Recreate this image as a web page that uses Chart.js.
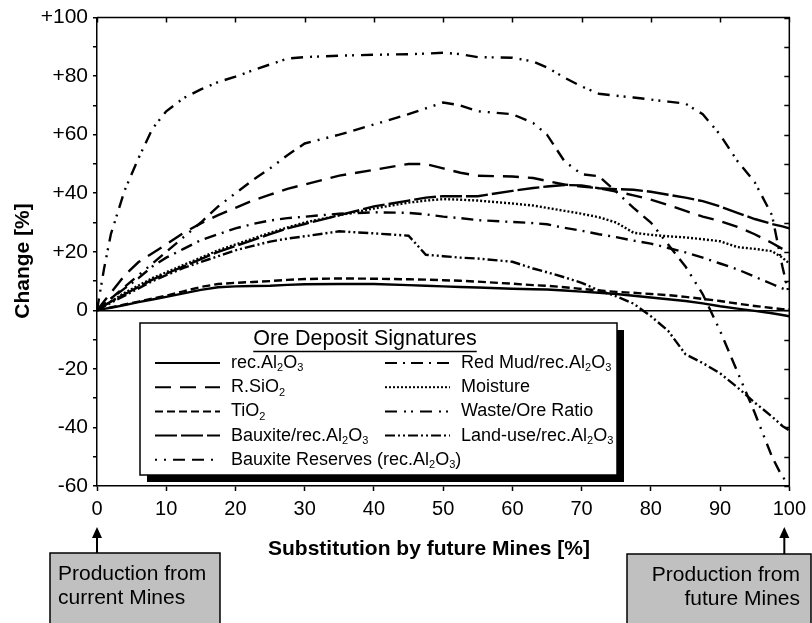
<!DOCTYPE html>
<html>
<head>
<meta charset="utf-8">
<script src="https://cdn.jsdelivr.net/npm/chart.js@4.4.1/dist/chart.umd.min.js"></script>
<style>
    html, body { margin: 0; padding: 0; background: #fff; }
    #wrap { width: 812px; height: 623px; position: relative; }
</style>
</head>
<body>
<div id="wrap"><canvas id="chart"></canvas></div>
<script>
// Substitution by future mines [%]
const substitution = [0, 1, 2, 4, 6, 8, 10, 12.5, 15, 17.5, 20, 22.5, 25, 27.5, 30, 35, 40, 45, 47.5, 50,
    52.5, 55, 60, 63, 65, 67.5, 70, 72.5, 75, 77.5, 80, 82.5, 85, 87.5, 90, 92.5, 95, 97.5, 99, 100];

// Change [%] per ore deposit signature
const recAl2O3 = [0, 0.5, 0.9, 1.8, 2.8, 3.7, 4.6, 5.8, 7, 7.9, 8.2, 8.3, 8.4, 8.7, 8.9, 9, 9, 8.6, 8.4, 8.2,
    8, 7.8, 7.4, 7.2, 7.1, 6.8, 6.4, 6, 5.6, 5, 4.4, 3.8, 3.2, 2.4, 1.4, 0.6, -0.2, -1, -1.6, -2];
const rSiO2 = [0, 3, 6, 12, 16.5, 19.5, 22.5, 26.5, 29.7, 32.5, 35, 37.5, 39.5, 41.5, 43, 46, 48, 50, 50, 48.5,
    47, 46, 45.7, 45.2, 44.2, 43, 42.3, 41.7, 40.6, 39.3, 37.8, 36, 34, 32, 30.5, 28.5, 26, 23, 21, 19];
const tiO2 = [0, 0.5, 1, 2, 3, 4, 5, 6.5, 8, 9, 9.4, 9.7, 10, 10.4, 10.7, 10.9, 10.8, 10.6, 10.5, 10.3,
    10.1, 9.8, 9.1, 8.6, 8.4, 7.9, 7.3, 6.8, 6.3, 6, 5.6, 5.2, 4.6, 3.9, 3.2, 2.3, 1.5, 0.8, 0.4, 0.3];
const bauxitePerAl = [0, 1.5, 3, 5.5, 8, 10.5, 12.5, 15, 17.5, 20, 22, 24, 26, 28, 29.5, 32.5, 35.5, 37.5, 38.5, 39,
    39, 39, 40.8, 41.8, 42.3, 42.8, 42.7, 41.7, 41.4, 41.2, 40.5, 39.5, 38.5, 37.3, 35.5, 33.3, 31.2, 29.5, 28.7, 28];
const bauxiteReserves = [0, 2, 4, 8, 12, 16, 20, 25, 30, 35.5, 40, 44.5, 48.5, 53, 57, 60, 63.5, 67, 69, 71,
    70, 68, 67, 64, 60, 51, 46.5, 45.8, 40.5, 35, 30, 22.5, 15, 5.5, -7, -21, -35, -50, -57, -59];
const redMudPerAl = [0, 2, 4, 7.5, 11, 15, 18, 21, 24, 26, 28, 29.5, 30.7, 31.5, 32, 33, 33.5, 33.3, 32.8, 32,
    31.5, 30.8, 30.2, 29.8, 29.4, 28.2, 27.2, 26, 25, 23.8, 22.8, 21.3, 19.8, 18, 16, 14, 11.5, 9, 7.5, 6.5];
const moisture = [0, 1.5, 3, 6, 8.5, 11, 13, 15.5, 18, 20.5, 22.5, 24.5, 26.5, 28.3, 30, 32.5, 34.8, 36.8, 37.5, 38,
    37.8, 37.5, 36.5, 35.8, 35, 34, 33, 31.8, 30, 26.5, 25.8, 25.3, 24.9, 24.3, 23.6, 21.6, 21, 20.2, 18, 16];
const wasteOreRatio = [0, 14, 26, 41, 52, 62, 68, 72.5, 75.5, 78, 79.8, 82, 84, 86, 86.5, 87, 87.3, 87.5, 87.7, 88,
    87.5, 86.5, 86.3, 85, 83, 79.5, 76.5, 74, 73.3, 72.7, 72, 71.3, 70.6, 67, 60, 51, 43.8, 32.5, 15, 5];
const landUsePerAl = [0, 1.3, 2.6, 5, 7.5, 10, 12, 14.5, 16.5, 18.5, 20.5, 22, 23.5, 24.5, 25.3, 27, 26.3, 25.5, 19, 18.5,
    18, 17.7, 16.6, 14.3, 13, 11.3, 9.4, 6.8, 4.8, 2.3, -2, -7, -15, -18, -21.5, -26.3, -31.5, -36.3, -39.5, -41];

const yTickLabels = ['-60', '-40', '-20', '0', '+20', '+40', '+60', '+80', '+100'];
const xTitle = 'Substitution by future Mines [%]';
const yTitle = 'Change [%]';
const legendTitle = 'Ore Deposit Signatures';
const leftNote = ['Production from', 'current Mines'];
const rightNote = ['Production from', 'future Mines'];

const FONT = '"Liberation Sans", Arial, Helvetica, sans-serif';

function series(label, values, dash) {
    return {
        label: label,
        data: substitution.map((x, i) => ({ x: x, y: values[i] })),
        borderColor: '#000',
        borderWidth: 2.4,
        borderDash: dash,
        pointRadius: 0,
        fill: false,
        tension: 0
    };
}

const datasets = [
    series('rec.Al₂O₃', recAl2O3, []),
    series('R.SiO₂', rSiO2, [16, 9]),
    series('TiO₂', tiO2, [8, 4]),
    series('Bauxite/rec.Al₂O₃', bauxitePerAl, [22, 4]),
    series('Bauxite Reserves (rec.Al₂O₃)', bauxiteReserves, [2, 7, 2, 7, 12, 7, 12, 7]),
    series('Red Mud/rec.Al₂O₃', redMudPerAl, [12, 6, 2, 6]),
    series('Moisture', moisture, [2, 2]),
    series('Waste/Ore Ratio', wasteOreRatio, [12, 7, 2, 5, 2, 7]),
    series('Land-use/rec.Al₂O₃', landUsePerAl, [10, 3, 2, 3, 2, 3])
];

const SUBS = { '₂': '2', '₃': '3' };

// text with subscript digits
function drawRich(ctx, text, x, y, size) {
    let cx = x;
    text.split(/([₂₃])/).filter(p => p).forEach(p => {
        if (SUBS[p]) {
            ctx.font = Math.round(size * 0.62) + 'px ' + FONT;
            ctx.fillText(SUBS[p], cx, y + size * 0.3);
            cx += ctx.measureText(SUBS[p]).width;
        } else {
            ctx.font = size + 'px ' + FONT;
            ctx.fillText(p, cx, y);
            cx += ctx.measureText(p).width;
        }
    });
}

function drawArrow(ctx, ax, fromY, tipY) {
    ctx.beginPath();
    ctx.lineWidth = 2;
    ctx.moveTo(ax, fromY);
    ctx.lineTo(ax, tipY + 8);
    ctx.stroke();
    ctx.beginPath();
    ctx.moveTo(ax, tipY);
    ctx.lineTo(ax - 5, tipY + 11);
    ctx.lineTo(ax + 5, tipY + 11);
    ctx.closePath();
    ctx.fill();
}

function drawNote(ctx, box, lines, align, tx) {
    ctx.fillStyle = '#c0c0c0';
    ctx.fillRect(box.x, box.y, box.w, box.h);
    ctx.strokeStyle = '#000';
    ctx.lineWidth = 1.5;
    ctx.strokeRect(box.x, box.y, box.w, box.h);
    ctx.fillStyle = '#000';
    ctx.font = '21px ' + FONT;
    ctx.textAlign = align;
    ctx.textBaseline = 'middle';
    lines.forEach((line, i) => ctx.fillText(line, tx, box.y + 21 + i * 24));
}

const decor = {
    id: 'decor',
    afterDraw(chart) {
        const { ctx, chartArea: a, scales: { x, y } } = chart;
        ctx.save();

        // top and right frame, ticks pointing inward
        ctx.strokeStyle = '#000';
        ctx.lineWidth = 1.5;
        ctx.beginPath();
        ctx.moveTo(a.left, a.top);
        ctx.lineTo(a.right, a.top);
        ctx.lineTo(a.right, a.bottom);
        x.ticks.forEach(t => {
            const px = Math.round(x.getPixelForValue(t.value)) + 0.5;
            ctx.moveTo(px, a.top);
            ctx.lineTo(px, a.top + 5);
        });
        y.ticks.forEach(t => {
            const py = Math.round(y.getPixelForValue(t.value)) + 0.5;
            ctx.moveTo(a.right, py);
            ctx.lineTo(a.right - 5, py);
        });
        ctx.stroke();

        // axis titles
        ctx.fillStyle = '#000';
        ctx.font = 'bold 21px ' + FONT;
        ctx.textAlign = 'center';
        ctx.textBaseline = 'alphabetic';
        ctx.fillText(xTitle, 429, 555);
        ctx.save();
        ctx.translate(29, 261);
        ctx.rotate(-Math.PI / 2);
        ctx.fillText(yTitle, 0, 0);
        ctx.restore();

        // legend box with shadow
        const L = { x: 140, y: 323, w: 477, h: 152 };
        ctx.fillStyle = '#000';
        ctx.fillRect(L.x + 7, L.y + 7, L.w, L.h);
        ctx.fillStyle = '#fff';
        ctx.fillRect(L.x, L.y, L.w, L.h);
        ctx.lineWidth = 1.5;
        ctx.strokeRect(L.x, L.y, L.w, L.h);

        ctx.fillStyle = '#000';
        ctx.font = '21.5px ' + FONT;
        ctx.textAlign = 'center';
        ctx.textBaseline = 'middle';
        ctx.fillText(legendTitle, 365, 339);
        const tw = ctx.measureText(legendTitle).width;
        ctx.lineWidth = 1.5;
        ctx.beginPath();
        ctx.moveTo(365 - tw / 2, 351.5);
        ctx.lineTo(365 + tw / 2, 351.5);
        ctx.stroke();

        const columns = [
            { sx: 155, tx: 231, items: [0, 1, 2, 3, 4] },
            { sx: 385, tx: 461, items: [5, 6, 7, 8] }
        ];
        ctx.textAlign = 'left';
        columns.forEach(col => {
            col.items.forEach((di, r) => {
                const ds = chart.data.datasets[di];
                const ry = 363 + r * 24.2;
                ctx.save();
                ctx.setLineDash(ds.borderDash);
                ctx.lineWidth = 2;
                ctx.beginPath();
                ctx.moveTo(col.sx, ry);
                ctx.lineTo(col.sx + 65, ry);
                ctx.stroke();
                ctx.restore();
                ctx.fillStyle = '#000';
                drawRich(ctx, ds.label, col.tx, ry, 18);
            });
        });

        // notes below the axis
        const x0 = x.getPixelForValue(0);
        const x100 = x.getPixelForValue(100);
        ctx.fillStyle = '#000';
        ctx.strokeStyle = '#000';
        drawArrow(ctx, x0, 553, 527);
        drawArrow(ctx, x100 - 5, 554, 527);
        drawNote(ctx, { x: 50, y: 553, w: 170, h: 72 }, leftNote, 'left', 58);
        drawNote(ctx, { x: 627, y: 554, w: 184, h: 72 }, rightNote, 'right', 800);

        ctx.restore();
    }
};

new Chart(document.getElementById('chart'), {
    type: 'line',
    data: { datasets: datasets },
    options: {
        responsive: true,
        maintainAspectRatio: false,
        animation: false,
        devicePixelRatio: 1,
        layout: { padding: { top: 16, right: 19, left: 0, bottom: 0 } },
        plugins: {
            legend: { display: false },
            tooltip: { enabled: false }
        },
        scales: {
            x: {
                type: 'linear',
                min: 0,
                max: 100,
                afterFit: s => { s.height = 137; },
                ticks: {
                    stepSize: 10,
                    autoSkip: false,
                    maxRotation: 0,
                    color: '#000',
                    padding: 6,
                    font: { family: FONT, size: 20 }
                },
                grid: { drawOnChartArea: false, tickLength: 5, tickColor: '#000', tickWidth: 1.5 },
                border: { color: '#000', width: 1.5 }
            },
            y: {
                type: 'linear',
                min: -60,
                max: 100,
                afterFit: s => { s.width = 97; },
                ticks: {
                    stepSize: 10,
                    autoSkip: false,
                    color: '#000',
                    padding: 5,
                    font: { family: FONT, size: 21 },
                    callback: v => (v % 20 === 0 ? yTickLabels[(v + 60) / 20] : '')
                },
                grid: {
                    drawOnChartArea: true,
                    color: c => (c.tick && c.tick.value === 0 ? '#000' : 'rgba(0,0,0,0)'),
                    lineWidth: 1.5,
                    tickLength: 4,
                    tickColor: '#000',
                    tickWidth: 1.5
                },
                border: { color: '#000', width: 1.5 }
            }
        }
    },
    plugins: [decor]
});
</script>
</body>
</html>
